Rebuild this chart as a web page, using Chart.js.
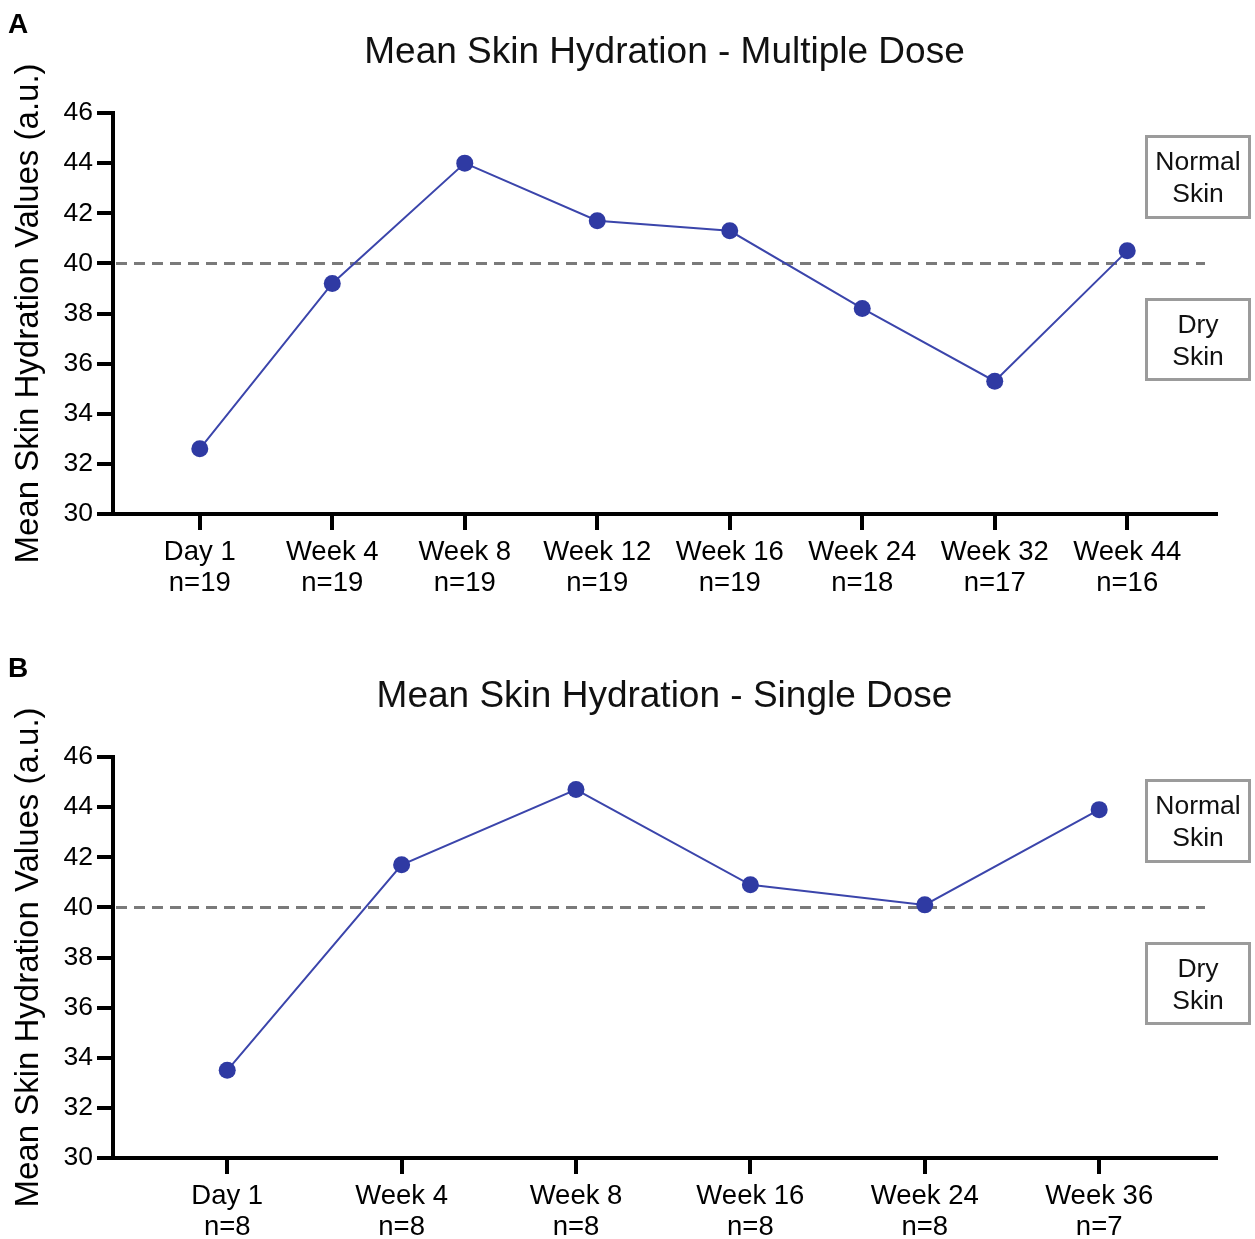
<!DOCTYPE html>
<html>
<head>
<meta charset="utf-8">
<script src="https://cdn.jsdelivr.net/npm/chart.js@4/dist/chart.umd.min.js"></script>
<style>
  html, body { margin: 0; padding: 0; background: #fff; overflow: hidden; }
  canvas { display: block; }
</style>
</head>
<body>
<canvas id="chartA" width="1255" height="644"></canvas>
<canvas id="chartB" width="1255" height="595"></canvas>
<script>
// ---- data ----
const categoriesA = ['Day 1', 'Week 4', 'Week 8', 'Week 12', 'Week 16', 'Week 24', 'Week 32', 'Week 44'];
const countsA = ['n=19', 'n=19', 'n=19', 'n=19', 'n=19', 'n=18', 'n=17', 'n=16'];
const valuesA = [32.6, 39.2, 44.0, 41.7, 41.3, 38.2, 35.3, 40.5];

const categoriesB = ['Day 1', 'Week 4', 'Week 8', 'Week 16', 'Week 24', 'Week 36'];
const countsB = ['n=8', 'n=8', 'n=8', 'n=8', 'n=8', 'n=7'];
const valuesB = [33.5, 41.7, 44.7, 40.9, 40.1, 43.9];

const yTickValues = [30, 32, 34, 36, 38, 40, 42, 44, 46];
const thresholdValue = [40];
const boxLabels = [['Normal', 'Skin'], ['Dry', 'Skin']];

const FONT = "'Liberation Sans', Arial, Helvetica, sans-serif";
const BLUE = '#2f3aa3';

function decorPlugin(letter, title) {
  return {
    id: 'decor',
    beforeDatasetsDraw(chart) {
      const ctx = chart.ctx, ca = chart.chartArea, y = chart.scales.y;
      ctx.save();
      ctx.strokeStyle = '#7a7a7a';
      ctx.lineWidth = 3;
      ctx.setLineDash([11, 7]);
      thresholdValue.forEach(v => {
        const py = Math.round(y.getPixelForValue(v)) + 0.5;
        ctx.beginPath();
        ctx.moveTo(ca.left + 3, py);
        ctx.lineTo(ca.right - 11, py);
        ctx.stroke();
      });
      ctx.restore();
    },
    afterDraw(chart) {
      const ctx = chart.ctx, ca = chart.chartArea;
      ctx.save();
      // panel letter
      ctx.fillStyle = '#000';
      ctx.font = 'bold 28px ' + FONT;
      ctx.textAlign = 'left';
      ctx.textBaseline = 'alphabetic';
      ctx.fillText(letter, 8, 33);
      // title
      ctx.font = '37px ' + FONT;
      ctx.textAlign = 'center';
      ctx.textBaseline = 'middle';
      ctx.fillStyle = '#111';
      ctx.fillText(title, (ca.left + ca.right) / 2, 53);
      // boxes
      const boxes = [{top: 136, h: 82, lines: boxLabels[0]}, {top: 299, h: 81, lines: boxLabels[1]}];
      boxes.forEach(b => {
        ctx.fillStyle = '#fff';
        ctx.fillRect(1145, b.top, 106, b.h);
        ctx.strokeStyle = '#9b9b9b';
        ctx.lineWidth = 3;
        ctx.setLineDash([]);
        ctx.strokeRect(1146.5, b.top + 0.5, 103, b.h - 1);
        ctx.fillStyle = '#111';
        ctx.font = '26.5px ' + FONT;
        ctx.textAlign = 'center';
        ctx.textBaseline = 'middle';
        ctx.fillText(b.lines[0], 1198, b.top + 27);
        ctx.fillText(b.lines[1], 1198, b.top + 59);
      });
      ctx.restore();
    }
  };
}

function makeChart(id, cats, counts, vals, letter, title, bottomPad) {
  const data = vals.map((v, i) => ({x: i, y: v}));
  return new Chart(document.getElementById(id), {
    type: 'line',
    data: {
      datasets: [{
        data: data,
        borderColor: '#3b45ab',
        borderWidth: 2,
        backgroundColor: BLUE,
        pointBackgroundColor: BLUE,
        pointBorderColor: BLUE,
        pointRadius: 8.5,
        pointBorderWidth: 0,
        tension: 0,
        clip: false
      }]
    },
    options: {
      responsive: false,
      animation: false,
      devicePixelRatio: 1,
      layout: { padding: { top: 113, right: 39, bottom: bottomPad, left: 0 } },
      plugins: { legend: { display: false }, tooltip: { enabled: false }, title: { display: false } },
      scales: {
        x: {
          type: 'linear',
          min: -0.655,
          max: cats.length - 1 + 0.67,
          afterBuildTicks: s => { s.ticks = cats.map((_, i) => ({value: i})); },
          afterFit: s => { s.height = 81; },
          ticks: {
            autoSkip: false,
            maxRotation: 0,
            padding: 7,
            color: '#000',
            font: { family: FONT, size: 27.5, lineHeight: 1.13 },
            callback: v => [cats[v], counts[v]]
          },
          grid: { display: true, drawOnChartArea: false, drawTicks: true, lineWidth: 4, tickLength: 16, tickWidth: 4, tickColor: '#000' },
          border: { display: true, width: 4, color: '#000' }
        },
        y: {
          min: 30,
          max: 46,
          afterBuildTicks: s => { s.ticks = yTickValues.map(v => ({value: v})); },
          afterFit: s => { s.width = 113; },
          ticks: {
            padding: 4,
            color: '#000',
            font: { family: FONT, size: 26.5 }
          },
          grid: { display: true, drawOnChartArea: false, drawTicks: true, lineWidth: 4, tickLength: 16, tickWidth: 4, tickColor: '#000' },
          border: { display: true, width: 4, color: '#000' },
          title: {
            display: true,
            text: 'Mean Skin Hydration Values (a.u.)',
            color: '#000',
            font: { family: FONT, size: 33 },
            padding: { top: 9, bottom: 0 }
          }
        }
      }
    },
    plugins: [decorPlugin(letter, title)]
  });
}

makeChart('chartA', categoriesA, countsA, valuesA, 'A', 'Mean Skin Hydration - Multiple Dose', 49);
makeChart('chartB', categoriesB, countsB, valuesB, 'B', 'Mean Skin Hydration - Single Dose', 0);
</script>
</body>
</html>
